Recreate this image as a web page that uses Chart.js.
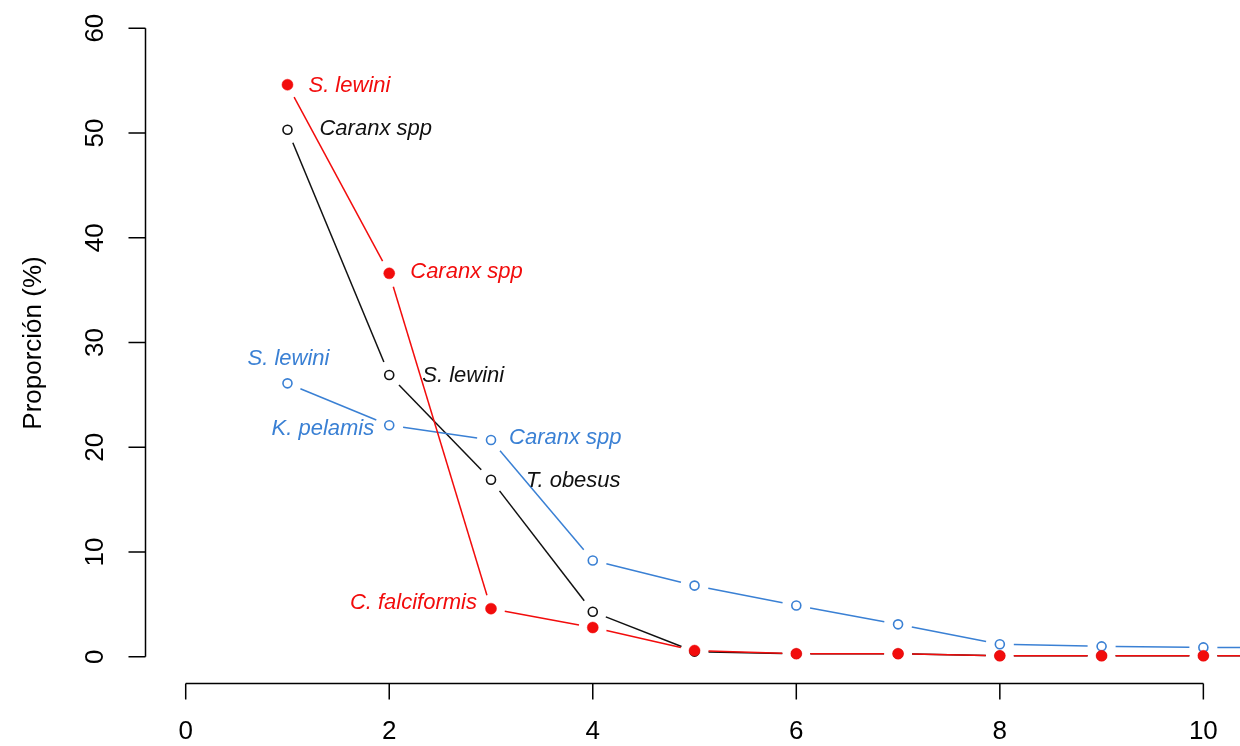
<!DOCTYPE html>
<html>
<head>
<meta charset="utf-8">
<script src="https://cdn.jsdelivr.net/npm/chart.js@4.4.1/dist/chart.umd.min.js"></script>
<style>
  html, body { margin: 0; padding: 0; background: #ffffff; }
  #wrap { width: 1240px; height: 746px; }
</style>
</head>
<body>
<div id="wrap"><canvas id="c" width="1240" height="746"></canvas></div>
<script>
// Rank positions (x) and the proportion (%) of each group at every rank
const ranks = [1, 2, 3, 4, 5, 6, 7, 8, 9, 10, 11];
const redSeries   = [54.6, 36.6, 4.6, 2.8, 0.6, 0.3, 0.3, 0.1, 0.1, 0.1, 0.1];
const blackSeries = [50.3, 26.9, 16.9, 4.3, 0.5, 0.3, 0.3, 0.1, 0.1, 0.1, 0.1];
const blueSeries  = [26.1, 22.1, 20.7, 9.2, 6.8, 4.9, 3.1, 1.2, 1.0, 0.9, 0.9];

const xTickValues = [0, 2, 4, 6, 8, 10];
const yTickValues = [0, 10, 20, 30, 40, 50, 60];
const yAxisTitle = 'Proporción (%)';

// Species names written next to the first ranks of each series
const redNames   = ['S. lewini', 'Caranx spp', 'C. falciformis'];
const blackNames = ['Caranx spp', 'S. lewini', 'T. obesus'];
const blueNames  = ['S. lewini', 'K. pelamis', 'Caranx spp'];

const RED = '#f20c0c';
const BLUE = '#3a80d4';
const BLACK = '#111111';

// pixel placement of each name relative to its point
const nameLayout = [
  { ds: 2, names: redNames,   place: [[21, 1, 'left'], [21, -1, 'left'], [-14, -6, 'right']] },
  { ds: 0, names: blackNames, place: [[32, -1, 'left'], [33, 1, 'left'], [35, 1, 'left']] },
  { ds: 1, names: blueNames,  place: [[1, -24, 'center'], [-15, 4, 'right'], [18, -2, 'left']] }
];

const toPoints = vals => ranks.map((r, i) => ({ x: r, y: vals[i] }));

// R "type = b" style: each segment leaves a gap next to both of its points
const GAP = 14;
const gappedDash = ctx => {
  const L = Math.hypot(ctx.p1.x - ctx.p0.x, ctx.p1.y - ctx.p0.y);
  if (L <= 2 * GAP) return [0, Math.max(L, 1)];
  return [0, GAP, L - 2 * GAP, GAP];
};

const FONT = '"Liberation Sans", Arial, Helvetica, sans-serif';

const rAxes = {
  id: 'rAxes',
  afterDraw(chart) {
    const { ctx, scales: { x, y } } = chart;
    ctx.save();
    ctx.strokeStyle = '#000';
    ctx.lineWidth = 1.5;
    ctx.fillStyle = '#000';
    ctx.font = '26px ' + FONT;

    // y axis: spans 0..60 only
    const ax = 145.5;
    ctx.beginPath();
    ctx.moveTo(ax, y.getPixelForValue(yTickValues[0]));
    ctx.lineTo(ax, y.getPixelForValue(yTickValues[yTickValues.length - 1]));
    yTickValues.forEach(v => {
      const py = y.getPixelForValue(v);
      ctx.moveTo(ax, py);
      ctx.lineTo(ax - 17, py);
    });
    ctx.stroke();
    ctx.textAlign = 'center';
    ctx.textBaseline = 'middle';
    yTickValues.forEach(v => {
      const py = y.getPixelForValue(v);
      ctx.save();
      ctx.translate(96, py);
      ctx.rotate(-Math.PI / 2);
      ctx.fillText(String(v), 0, 0);
      ctx.restore();
    });

    // x axis: spans 0..10 only
    const ay = 683.5;
    ctx.beginPath();
    ctx.moveTo(x.getPixelForValue(xTickValues[0]), ay);
    ctx.lineTo(x.getPixelForValue(xTickValues[xTickValues.length - 1]), ay);
    xTickValues.forEach(v => {
      const px = x.getPixelForValue(v);
      ctx.moveTo(px, ay);
      ctx.lineTo(px, ay + 16);
    });
    ctx.stroke();
    xTickValues.forEach(v => {
      ctx.fillText(String(v), x.getPixelForValue(v), 732);
    });

    // y axis title
    ctx.save();
    ctx.translate(34, 343);
    ctx.rotate(-Math.PI / 2);
    ctx.fillText(yAxisTitle, 0, 0);
    ctx.restore();

    // species names beside points
    ctx.font = 'italic 22px ' + FONT;
    ctx.textBaseline = 'middle';
    nameLayout.forEach(group => {
      const meta = chart.getDatasetMeta(group.ds);
      const color = chart.data.datasets[group.ds].borderColor;
      ctx.fillStyle = color;
      group.names.forEach((name, i) => {
        const pt = meta.data[i];
        const [dx, dy, align] = group.place[i];
        ctx.textAlign = align;
        ctx.fillText(name, pt.x + dx, pt.y + dy);
      });
    });
    ctx.restore();
  }
};

new Chart(document.getElementById('c'), {
  type: 'line',
  data: {
    datasets: [
      {
        data: toPoints(blackSeries),
        borderColor: BLACK,
        backgroundColor: '#ffffff',
        borderWidth: 1.5,
        pointRadius: 4.5,
        pointBorderWidth: 1.6,
        pointBackgroundColor: '#ffffff',
        pointBorderColor: BLACK,
        segment: { borderDash: gappedDash },
        order: 3
      },
      {
        data: toPoints(blueSeries),
        borderColor: BLUE,
        backgroundColor: '#ffffff',
        borderWidth: 1.5,
        pointRadius: 4.5,
        pointBorderWidth: 1.6,
        pointBackgroundColor: '#ffffff',
        pointBorderColor: BLUE,
        segment: { borderDash: gappedDash },
        order: 2
      },
      {
        data: toPoints(redSeries),
        borderColor: RED,
        backgroundColor: RED,
        borderWidth: 1.5,
        pointRadius: 5.5,
        pointBorderWidth: 0.5,
        pointBackgroundColor: RED,
        pointBorderColor: RED,
        segment: { borderDash: gappedDash },
        order: 1
      }
    ]
  },
  options: {
    responsive: false,
    animation: false,
    events: [],
    layout: { autoPadding: false, padding: { left: 145, right: 0, top: 3, bottom: 64 } },
    plugins: { legend: { display: false }, tooltip: { enabled: false } },
    elements: { line: { tension: 0, fill: false, borderCapStyle: 'butt' } },
    scales: {
      x: { type: 'linear', min: -0.4, max: 10.36, display: false },
      y: { type: 'linear', min: -2.4, max: 62.4, display: false }
    }
  },
  plugins: [rAxes]
});
</script>
</body>
</html>
